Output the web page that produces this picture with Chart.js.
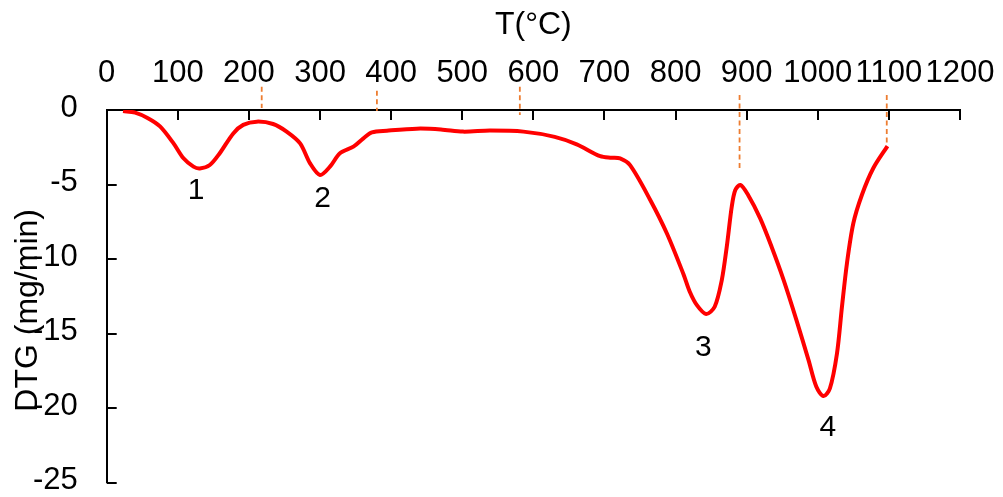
<!DOCTYPE html>
<html>
<head>
<meta charset="utf-8">
<script src="https://cdn.jsdelivr.net/npm/chart.js@4/dist/chart.umd.min.js"></script>
<style>
  html, body { margin: 0; padding: 0; background: #fff; }
  #wrap { width: 1003px; height: 497px; position: relative; }
</style>
</head>
<body>
<div id="wrap"><canvas id="c"></canvas></div>
<script>
// ---- data ----
const temperature = [23, 40, 58, 75, 94, 108, 122, 131, 145, 159, 178, 192, 211, 234, 253, 272, 286, 300, 314, 328, 347, 361, 373, 394, 436, 470, 501, 539, 586, 630, 661, 694, 710, 722, 736, 764, 788, 811, 820, 830, 843, 855, 865, 872, 879, 884, 891, 902, 919, 935, 952, 970, 987, 998, 1008, 1017, 1027, 1034, 1041, 1050, 1062, 1078, 1098];
const dtg = [-0.07, -0.18, -0.55, -1.1, -2.24, -3.24, -3.8, -3.92, -3.69, -2.9, -1.57, -1.0, -0.78, -0.94, -1.45, -2.24, -3.58, -4.36, -3.8, -2.9, -2.46, -1.9, -1.5, -1.39, -1.25, -1.3, -1.45, -1.38, -1.45, -1.8, -2.3, -3.1, -3.2, -3.25, -3.7, -6.0, -8.3, -11.0, -12.19, -13.09, -13.69, -13.2, -11.41, -9.17, -6.49, -5.37, -5.03, -5.7, -7.27, -9.17, -11.41, -14.09, -16.78, -18.57, -19.19, -18.68, -16.33, -13.2, -10.29, -7.6, -5.7, -3.91, -2.42];

// vertical dashed marker lines (temperature, top value, bottom value)
const markerT = [218, 380, 581, 890, 1097];
const markerTop = [1.56, 1.29, 1.56, 1.0, 1.0];
const markerBottom = [0.13, -0.07, -0.34, -3.9, -2.42];

// peak labels
const peakLabels = ['1', '2', '3', '4'];
const peakT = [125.6, 303.5, 839, 1014];
const peakV = [-5.42, -5.97, -15.94, -21.3];

// axis settings
const xMin = 0, xMax = 1200, xStep = 100;
const yMin = -25, yMax = 0, yStep = 5;
const xTitle = 'T(°C)';
const yTitle = 'DTG (mg/min)';

const FONT = "'Liberation Sans', Arial, sans-serif";

const datasets = [{
  data: temperature.map((t, i) => ({ x: t, y: dtg[i] })),
  borderColor: '#FF0000',
  borderWidth: 4,
  pointRadius: 0,
  fill: false,
  tension: 0.3,
  order: 0
}];
markerT.forEach((t, i) => {
  datasets.push({
    data: [{ x: t, y: markerTop[i] }, { x: t, y: markerBottom[i] }],
    borderColor: '#ED7D31',
    borderWidth: 1.8,
    borderDash: [5, 3.5],
    pointRadius: 0,
    fill: false,
    clip: false,
    tension: 0,
    order: 1
  });
});

const extras = {
  id: 'extras',
  afterDraw(chart) {
    const ctx = chart.ctx;
    const xs = chart.scales.x, ys = chart.scales.y;
    const a = chart.chartArea;
    ctx.save();
    ctx.strokeStyle = '#000';
    ctx.lineWidth = 2;
    ctx.beginPath();
    xs.ticks.forEach(tk => {
      const px = Math.round(xs.getPixelForValue(tk.value));
      ctx.moveTo(px, a.top);
      ctx.lineTo(px, a.top + 10);
    });
    ys.ticks.forEach(tk => {
      const py = Math.round(ys.getPixelForValue(tk.value));
      ctx.moveTo(a.left, py);
      ctx.lineTo(a.left + 10, py);
    });
    ctx.stroke();
    ctx.fillStyle = '#000';
    // peak labels
    ctx.font = '30px ' + FONT;
    ctx.textAlign = 'center';
    ctx.textBaseline = 'middle';
    peakLabels.forEach((lab, i) => {
      ctx.fillText(lab, xs.getPixelForValue(peakT[i]), ys.getPixelForValue(peakV[i]));
    });
    // y axis title
    ctx.font = '32px ' + FONT;
    ctx.translate(28, (a.top + a.bottom) / 2 + 14);
    ctx.rotate(-Math.PI / 2);
    ctx.fillText(yTitle, 0, 0);
    ctx.restore();
  }
};

function noPad(s) {
  s.paddingLeft = 0; s.paddingRight = 0; s.paddingTop = 0; s.paddingBottom = 0;
}

new Chart(document.getElementById('c'), {
  type: 'line',
  data: { datasets },
  options: {
    responsive: true,
    maintainAspectRatio: false,
    animation: false,
    layout: { padding: { left: 0, top: 0, right: 43, bottom: 14.3 } },
    plugins: { legend: { display: false }, tooltip: { enabled: false } },
    scales: {
      x: {
        type: 'linear',
        position: 'top',
        min: xMin, max: xMax,
        afterFit(s) { s.height = 110; noPad(s); },
        ticks: {
          stepSize: xStep, autoSkip: false, maxRotation: 0, minRotation: 0,
          padding: 18, color: '#000', font: { family: FONT, size: 31 },
          callback: v => String(v)
        },
        grid: { display: true, drawOnChartArea: false, drawTicks: false },
        border: { display: true, color: '#000', width: 2 },
        title: { display: true, text: xTitle, color: '#000', font: { family: FONT, size: 32 }, padding: { top: 6, bottom: 0 } }
      },
      y: {
        type: 'linear',
        position: 'left',
        min: yMin, max: yMax,
        afterFit(s) { s.width = 106.7; noPad(s); },
        ticks: {
          stepSize: yStep, autoSkip: false, padding: 29, labelOffset: -2,
          color: '#000', font: { family: FONT, size: 31 },
          callback: v => String(v)
        },
        grid: { display: true, drawOnChartArea: false, drawTicks: false },
        border: { display: true, color: '#000', width: 2 },
        title: { display: false }
      }
    }
  },
  plugins: [extras]
});
</script>
</body>
</html>
